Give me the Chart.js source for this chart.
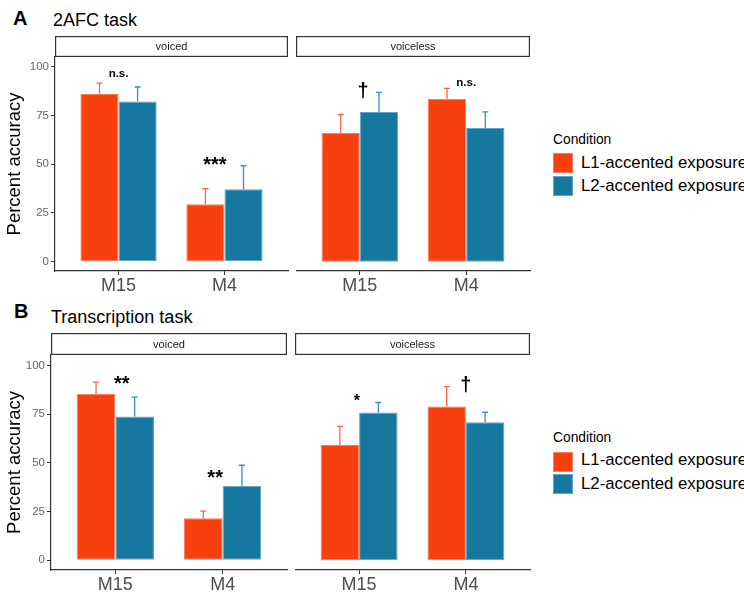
<!DOCTYPE html>
<html>
<head>
<meta charset="utf-8">
<script src="https://cdn.jsdelivr.net/npm/chart.js@4.4.1/dist/chart.umd.min.js"></script>
<style>
  body { margin: 0; background: #fff; }
  #wrap { position: relative; width: 744px; height: 603px; overflow: hidden; font-family: "Liberation Sans", Arial, sans-serif; color: #000; }
  #wrap canvas { position: absolute; }
  .tag { position: absolute; font-weight: bold; font-size: 20px; line-height: 1; white-space: nowrap; }
  .ttl { position: absolute; font-size: 18px; line-height: 1; white-space: nowrap; }
  .legTitle { position: absolute; left: 553px; font-size: 13.8px; line-height: 1; white-space: nowrap; }
  .legText { position: absolute; left: 581px; font-size: 16.8px; line-height: 1; white-space: nowrap; }
  .sw { position: absolute; left: 553px; width: 18px; height: 18px; }
</style>
</head>
<body>
<div id="wrap">
  <div class="tag" style="left:13px; top:8.2px;">A</div>
  <div class="ttl" style="left:53px; top:10.8px;">2AFC task</div>
  <div class="tag" style="left:14px; top:301px;">B</div>
  <div class="ttl" style="left:51px; top:307.8px;">Transcription task</div>

  <canvas id="cA1" width="289" height="265" style="left:0px; top:36px;"></canvas>
  <canvas id="cA2" width="235" height="265" style="left:296px; top:36px;"></canvas>
  <canvas id="cB1" width="288" height="267" style="left:0px; top:333px;"></canvas>
  <canvas id="cB2" width="236" height="267" style="left:295px; top:333px;"></canvas>

  <div id="legA"></div>
  <div id="legB"></div>
</div>

<script>
// categories and groups
const categories = ['M15', 'M4'];
const conditions = ['L1-accented exposure', 'L2-accented exposure'];
const facets = ['voiced', 'voiceless'];
const yTicks = [0, 25, 50, 75, 100];

// A: 2AFC task (means, and top of error bar)
const afcVoicedL1 = [86.0, 29.4];
const afcVoicedL2 = [82.2, 37.1];
const afcVoicedL1Up = [91.6, 37.4];
const afcVoicedL2Up = [89.6, 49.2];
const afcVoicelessL1 = [66.0, 83.4];
const afcVoicelessL2 = [76.8, 68.6];
const afcVoicelessL1Up = [75.5, 88.9];
const afcVoicelessL2Up = [86.8, 76.8];

// B: transcription task
const trVoicedL1 = [85.5, 21.6];
const trVoicedL2 = [73.8, 38.2];
const trVoicedL1Up = [91.5, 25.2];
const trVoicedL2Up = [83.8, 48.8];
const trVoicelessL1 = [59.2, 78.9];
const trVoicelessL2 = [75.9, 70.9];
const trVoicelessL1Up = [68.7, 89.2];
const trVoicelessL2Up = [81.0, 76.0];

// significance labels: [x (category index), y (percent), label]
const afcVoicedNotes = [[0, 96.6, 'n.s.'], [0.91, 51.3, '***']];
const afcVoicelessNotes = [[0.03, 87.2, '†'], [1.0, 91.8, 'n.s.']];
const trVoicedNotes = [[0.06, 92.1, '**'], [0.93, 44.3, '**']];
const trVoicelessNotes = [[-0.02, 83.4, '*'], [1.0, 89.6, '†']];

const FONT = '"Liberation Sans", Arial, sans-serif';
const fillL1 = '#f8400f', fillL2 = '#16789e';
const edgeL1 = '#fb7a58', edgeL2 = '#5fa6cc';
const errL1 = '#f4694c', errL2 = '#3a90c0';

Chart.defaults.font.family = FONT;

const noteStyle = {
  'n.s.': { font: 'bold 11.5px ' + FONT, dy: 0 },
  '***': { font: 'bold 20px ' + FONT, dy: 4 },
  '**': { font: 'bold 20px ' + FONT, dy: 4 },
  '*': { font: 'bold 16px ' + FONT, dy: 3.5 },
  '†': { font: 'bold 20px ' + FONT, dy: 0 }
};

function decor(strip, notes) {
  return {
    id: 'decor',
    beforeDraw(chart) {
      const { ctx, chartArea: a } = chart;
      ctx.save();
      ctx.fillStyle = '#fff';
      ctx.fillRect(a.left, 0, a.right - a.left, a.top);
      ctx.strokeStyle = '#333';
      ctx.lineWidth = 1.2;
      ctx.strokeRect(a.left + 0.6, 0.6, a.right - a.left - 1.2, a.top - 1.2);
      ctx.fillStyle = '#1a1a1a';
      ctx.font = '11px ' + FONT;
      ctx.textAlign = 'center';
      ctx.textBaseline = 'middle';
      ctx.fillText(strip, (a.left + a.right) / 2, a.top / 2 + 0.5);
      ctx.restore();
    },
    afterDatasetsDraw(chart) {
      const { ctx, scales: { x, y } } = chart;
      ctx.save();
      chart.data.datasets.forEach((ds, di) => {
        const meta = chart.getDatasetMeta(di);
        ctx.strokeStyle = ds.errColor;
        ctx.lineWidth = 1.3;
        meta.data.forEach((bar, i) => {
          const top = y.getPixelForValue(ds.upper[i]);
          ctx.beginPath();
          ctx.moveTo(bar.x, bar.y);
          ctx.lineTo(bar.x, top);
          ctx.moveTo(bar.x - 3, top);
          ctx.lineTo(bar.x + 3, top);
          ctx.stroke();
        });
      });
      ctx.fillStyle = '#000';
      ctx.textAlign = 'center';
      ctx.textBaseline = 'middle';
      notes.forEach(([nx, ny, label]) => {
        const st = noteStyle[label];
        ctx.font = st.font;
        ctx.fillText(label, x.getPixelForValue(nx), y.getPixelForValue(ny) + st.dy);
      });
      ctx.restore();
    }
  };
}

function makeFacet(id, strip, l1, l2, l1Up, l2Up, notes, showY, yWidth, yMin, yMax, padTop) {
  new Chart(document.getElementById(id), {
    type: 'bar',
    data: {
      datasets: [
        { label: conditions[0], data: l1.map((v, i) => ({ x: i, y: v })), upper: l1Up,
          backgroundColor: fillL1, borderColor: edgeL1, borderWidth: 1, borderSkipped: false, errColor: errL1 },
        { label: conditions[1], data: l2.map((v, i) => ({ x: i, y: v })), upper: l2Up,
          backgroundColor: fillL2, borderColor: edgeL2, borderWidth: 1, borderSkipped: false, errColor: errL2 }
      ]
    },
    options: {
      responsive: false,
      animation: false,
      events: [],
      devicePixelRatio: 1,
      categoryPercentage: 0.72,
      barPercentage: 1,
      layout: { padding: { top: padTop, right: 1, left: 0, bottom: 0 } },
      plugins: { legend: { display: false }, tooltip: { enabled: false } },
      scales: {
        x: {
          type: 'linear', min: -0.6, max: 1.6, offset: false,
          afterBuildTicks: s => { s.ticks = categories.map((c, i) => ({ value: i })); },
          afterFit: s => { s.height = 30; },
          ticks: { callback: v => categories[v], font: { size: 18 }, color: '#4d4d4d', padding: 0, maxRotation: 0, autoSkip: false },
          grid: { drawOnChartArea: false, drawTicks: true, tickLength: 4, color: '#333', offset: false },
          border: { display: true, color: '#333', width: 1.2 }
        },
        y: {
          display: showY, min: yMin, max: yMax,
          afterBuildTicks: s => { s.ticks = yTicks.map(v => ({ value: v })); },
          afterFit: s => { s.width = yWidth; },
          ticks: { font: { size: 11.5 }, color: '#666', padding: 2 },
          grid: { drawOnChartArea: false, drawTicks: true, tickLength: 4, color: '#333' },
          border: { display: true, color: '#333', width: 1.2 },
          title: { display: true, text: 'Percent accuracy', font: { size: 18.5 }, color: '#000', padding: { top: 4, bottom: 0 } }
        }
      }
    },
    plugins: [decor(strip, notes)]
  });
}

makeFacet('cA1', facets[0], afcVoicedL1, afcVoicedL2, afcVoicedL1Up, afcVoicedL2Up, afcVoicedNotes, true, 55, -4.8, 105, 21);
makeFacet('cA2', facets[1], afcVoicelessL1, afcVoicelessL2, afcVoicelessL1Up, afcVoicelessL2Up, afcVoicelessNotes, false, 0, -4.8, 105, 21);
makeFacet('cB1', facets[0], trVoicedL1, trVoicedL2, trVoicedL1Up, trVoicedL2Up, trVoicedNotes, true, 51, -5, 105.4, 22);
makeFacet('cB2', facets[1], trVoicelessL1, trVoicelessL2, trVoicelessL1Up, trVoicelessL2Up, trVoicelessNotes, false, 0, -5, 105.4, 22);

// legends
function legend(el, titleTop, swTops, textTops) {
  const box = document.getElementById(el);
  let html = '<div class="legTitle" style="top:' + titleTop + 'px">Condition</div>';
  const fills = [fillL1, fillL2], edges = [edgeL1, edgeL2];
  conditions.forEach((c, i) => {
    html += '<div class="sw" style="top:' + swTops[i] + 'px; background:' + fills[i] + '; border:1px solid ' + edges[i] + '"></div>';
    html += '<div class="legText" style="top:' + textTops[i] + 'px">' + c + '</div>';
  });
  box.innerHTML = html;
}
legend('legA', 132.6, [153, 176], [155, 178.4]);
legend('legB', 431, [452, 474], [452.4, 475.7]);
</script>
</body>
</html>
